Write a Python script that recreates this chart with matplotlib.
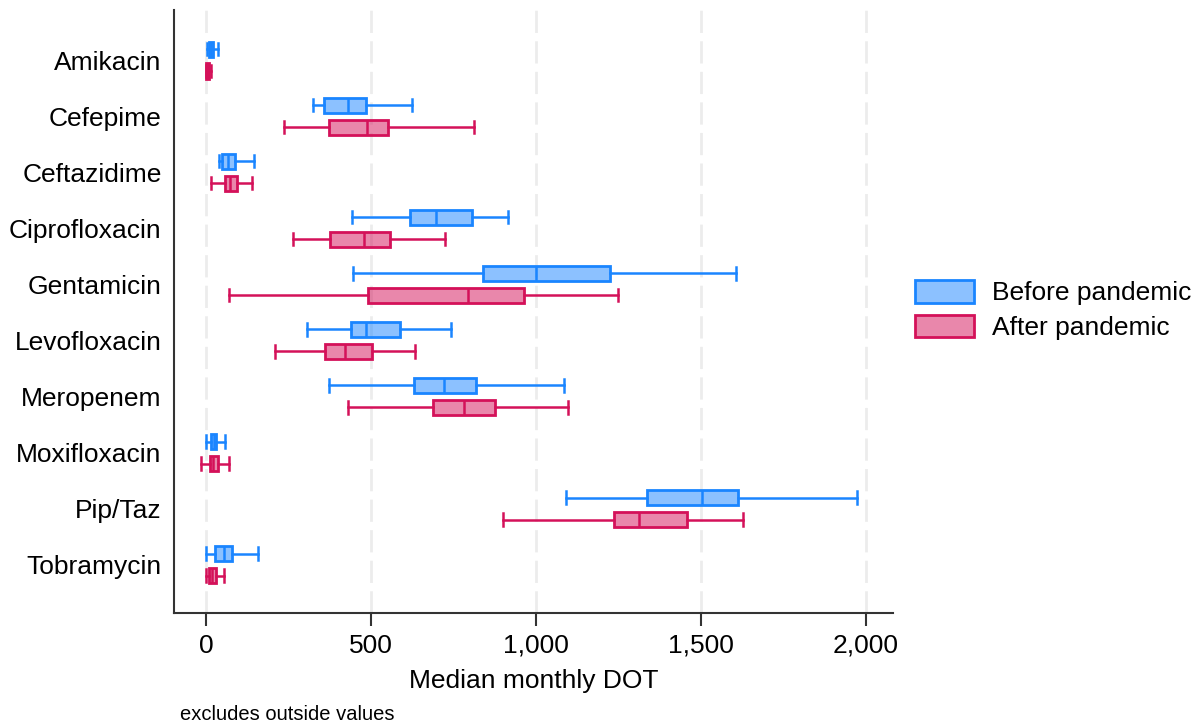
import numpy as np
import matplotlib
matplotlib.use("Agg")
import matplotlib.pyplot as plt
import matplotlib.patches as mpatches
from matplotlib.ticker import FuncFormatter

plt.rcParams["font.family"] = ["Liberation Sans", "DejaVu Sans"]

drugs = ["Amikacin", "Cefepime", "Ceftazidime", "Ciprofloxacin", "Gentamicin",
         "Levofloxacin", "Meropenem", "Moxifloxacin", "Pip/Taz", "Tobramycin"]

# lower whisker, q1, median, q3, upper whisker
before_lo = [2, 323, 38, 444, 447, 305, 373, 1, 1092, 1]
before_q1 = [8, 358, 49, 619, 839, 439, 630, 14, 1337, 28]
before_med = [14, 431, 68, 696, 1001, 485, 720, 23, 1505, 55]
before_q3 = [20, 485, 89, 807, 1226, 589, 817, 31, 1612, 79]
before_hi = [35, 624, 146, 916, 1607, 744, 1084, 57, 1974, 159]

after_lo = [0, 235, 15, 263, 70, 209, 430, -15, 899, 0]
after_q1 = [1, 373, 59, 375, 492, 360, 689, 11, 1237, 9]
after_med = [6, 487, 73, 478, 795, 420, 782, 21, 1313, 18]
after_q3 = [10, 552, 93, 557, 965, 502, 876, 35, 1458, 31]
after_hi = [14, 813, 138, 724, 1248, 635, 1097, 71, 1628, 55]

xticks = [0, 500, 1000, 1500, 2000]

blue = "#1A85FF"
red = "#D41159"


def make_stats(lo, q1, med, q3, hi):
    return [dict(whislo=a, q1=b, med=c, q3=d, whishi=e, fliers=[])
            for a, b, c, d, e in zip(lo, q1, med, q3, hi)]


def draw(ax, stats, positions, color):
    parts = ax.bxp(stats, positions=positions, widths=0.27, orientation="horizontal",
                   patch_artist=True, showfliers=False, capwidths=0.22,
                   boxprops=dict(facecolor=matplotlib.colors.to_rgba(color, 0.5),
                                 edgecolor=color, linewidth=2),
                   whiskerprops=dict(color=color, linewidth=1.8),
                   capprops=dict(color=color, linewidth=1.8),
                   medianprops=dict(color=color, linewidth=1.8))
    for b in parts["boxes"]:
        b.set_zorder(3)
    return parts


fig = plt.figure(figsize=(12, 7.27), dpi=100)
ax = fig.add_axes([0.145, 0.157, 0.599, 0.829])

pos = np.arange(len(drugs))
draw(ax, make_stats(before_lo, before_q1, before_med, before_q3, before_hi), pos - 0.196, blue)
draw(ax, make_stats(after_lo, after_q1, after_med, after_q3, after_hi), pos + 0.196, red)

ax.set_xlim(-97, 2082)
ax.set_ylim(9.86, -0.89)
ax.set_yticks(pos)
ax.set_yticklabels(drugs, fontsize=19)
ax.set_xticks(xticks)
ax.xaxis.set_major_formatter(FuncFormatter(lambda v, p: f"{v:,.0f}"))
ax.tick_params(axis="x", labelsize=19, length=9, width=1.5, color="#333333", pad=6)
ax.tick_params(axis="y", length=0, pad=9)

ax.xaxis.grid(True, linestyle=(0, (8, 3)), color="#ececec", linewidth=2)
ax.set_axisbelow(True)

for s in ["top", "right"]:
    ax.spines[s].set_visible(False)
for s in ["left", "bottom"]:
    ax.spines[s].set_color("#333333")
    ax.spines[s].set_linewidth(1.5)

ax.set_xlabel("Median monthly DOT", fontsize=19, labelpad=8)
fig.text(180 / 1200, 1 - 715 / 727, "excludes outside values", fontsize=14.5,
         ha="left", va="center")

handles = [
    mpatches.Patch(facecolor=matplotlib.colors.to_rgba(blue, 0.5), edgecolor=blue,
                   linewidth=2, label="Before pandemic"),
    mpatches.Patch(facecolor=matplotlib.colors.to_rgba(red, 0.5), edgecolor=red,
                   linewidth=2, label="After pandemic"),
]
fig.legend(handles=handles, loc="center left", bbox_to_anchor=(0.7625, 0.5736),
           frameon=False, fontsize=19, handlelength=2.25, handleheight=0.94,
           handletextpad=0.67, labelspacing=0.35, borderpad=0, borderaxespad=0)

fig.savefig("out.png", dpi=100)
